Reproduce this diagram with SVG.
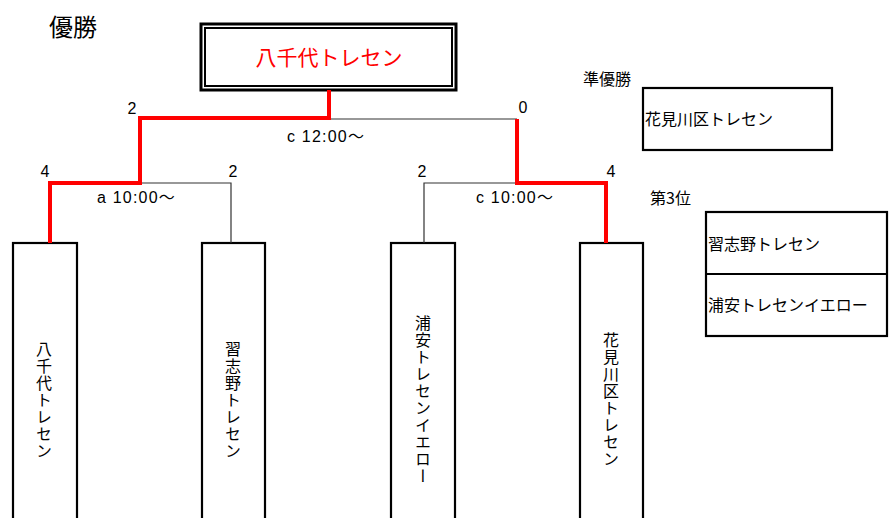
<svg xmlns="http://www.w3.org/2000/svg" width="889" height="518" viewBox="0 0 889 518">
<style>
.box{fill:#fff;stroke:#000;stroke-width:2.2}
.jp{font-family:"Noto Sans CJK JP","Liberation Sans",sans-serif;fill:#000}
.num{font-family:"Liberation Sans","Noto Sans CJK JP",sans-serif;font-size:16px;fill:#000}
.tm{font-family:"Liberation Sans","Noto Sans CJK JP",sans-serif;font-size:16px;fill:#000;letter-spacing:1.2px}
.vt{font-family:"Noto Sans CJK JP",sans-serif;font-size:16px;writing-mode:vertical-rl;text-anchor:middle;letter-spacing:1px;fill:#000}
.thin{fill:none;stroke:#333;stroke-width:1.2}
.red{fill:none;stroke:#f00;stroke-width:4;stroke-linejoin:miter}
</style>
<rect width="889" height="518" fill="#fff"/>
<text class="jp" x="49" y="36" font-size="24">優勝</text>
<text class="jp" x="583" y="85" font-size="16">準優勝</text>
<text class="jp" x="650" y="204" font-size="16">第3位</text>
<g id="champion">
<rect x="201" y="24" width="255" height="66" fill="#fff" stroke="#000" stroke-width="3"/>
<rect x="205" y="28" width="247" height="58" fill="none" stroke="#000" stroke-width="2"/>
<text class="jp" x="329" y="65" font-size="21" style="fill:#f00" text-anchor="middle">八千代トレセン</text>
</g>
<g id="runnerup">
<rect class="box" x="643" y="88" width="189" height="62"/>
<text class="jp" x="645" y="125" font-size="16">花見川区トレセン</text>
</g>
<g id="third">
<rect class="box" x="706" y="212" width="181" height="124"/>
<line x1="706" y1="274" x2="887" y2="274" stroke="#000" stroke-width="2.2"/>
<text class="jp" x="708" y="250" font-size="16">習志野トレセン</text>
<text class="jp" x="708" y="311" font-size="16">浦安トレセンイエロー</text>
</g>
<g id="team1">
<rect class="box" x="13" y="243" width="64" height="290"/>
<text class="vt" x="44" y="400">八千代トレセン</text>
</g>
<g id="team2">
<rect class="box" x="202" y="243" width="63" height="290"/>
<text class="vt" x="233" y="400">習志野トレセン</text>
</g>
<g id="team3">
<rect class="box" x="391" y="243" width="64" height="290"/>
<text class="vt" x="423" y="400">浦安トレセンイエロー</text>
</g>
<g id="team4">
<rect class="box" x="580" y="243" width="63" height="290"/>
<text class="vt" x="611" y="400">花見川区トレセン</text>
</g>
<g id="connectors">
<polyline class="thin" points="140,183 231,183 231,243"/>
<polyline class="thin" points="424,243 424,183 517,183"/>
<polyline class="thin" points="329,119 517,119"/>
<polyline class="red" points="50,243 50,183 140,183 140,118 329,118 329,90"/>
<polyline class="red" points="517,119 517,183 606,183 606,243"/>
</g>
<g id="labels">
<text class="num" x="132" y="114" text-anchor="middle">2</text>
<text class="num" x="45" y="177" text-anchor="middle">4</text>
<text class="num" x="233" y="177" text-anchor="middle">2</text>
<text class="num" x="422" y="177" text-anchor="middle">2</text>
<text class="num" x="523" y="113" text-anchor="middle">0</text>
<text class="num" x="611" y="177" text-anchor="middle">4</text>
<text class="tm" x="287" y="142">c 12:00～</text>
<text class="tm" x="97" y="203">a 10:00～</text>
<text class="tm" x="476" y="203">c 10:00～</text>
</g>
</svg>
